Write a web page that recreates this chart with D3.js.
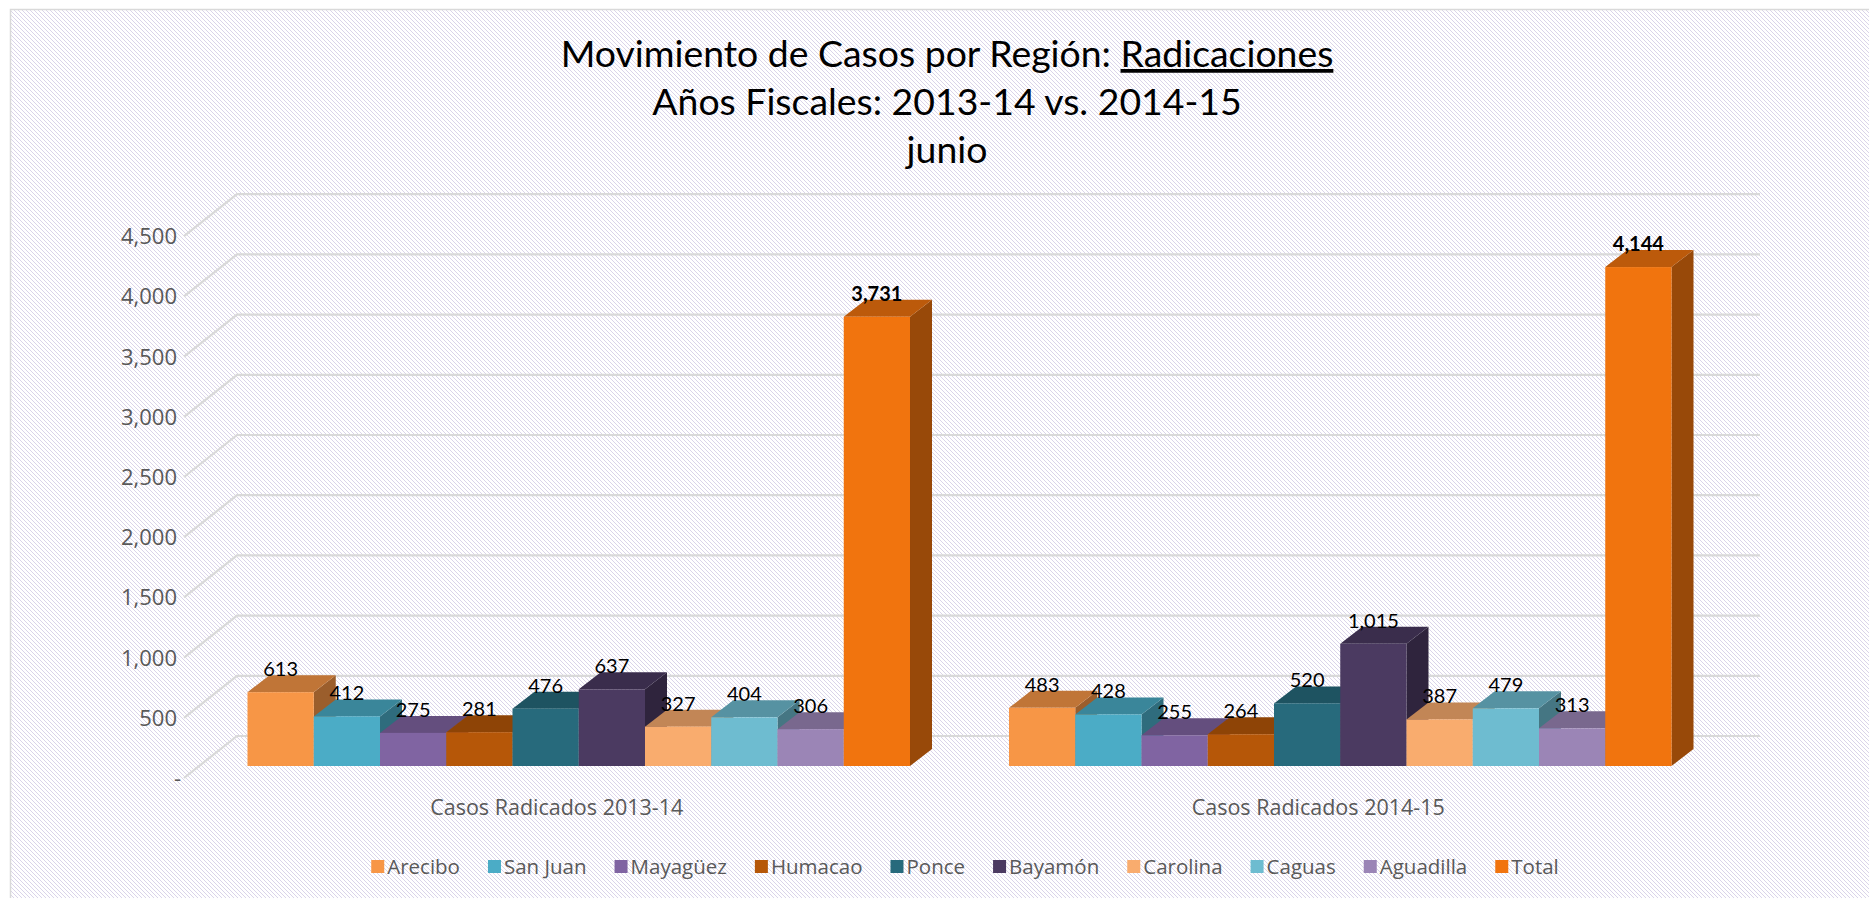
<!DOCTYPE html>
<html>
<head>
<meta charset="utf-8">
<script src="https://cdn.jsdelivr.net/npm/d3@7"></script>
<style>
  body { margin: 0; background: #fff; }
  svg { display: block; }
</style>
</head>
<body>
<div id="chart"></div>
<script>
var regions = ['Arecibo', 'San Juan', 'Mayagüez', 'Humacao', 'Ponce', 'Bayamón', 'Carolina', 'Caguas', 'Aguadilla', 'Total'];
var categories = ['Casos Radicados 2013-14', 'Casos Radicados 2014-15'];
var cases1314 = [613, 412, 275, 281, 476, 637, 327, 404, 306, 3731];
var cases1415 = [483, 428, 255, 264, 520, 1015, 387, 479, 313, 4144];
var colors = ['#f79646', '#4bacc6', '#8064a2', '#b65708', '#276a7c', '#4b3a61', '#f9ac6e', '#6ebcd0', '#9b85b6', '#f1740e'];
var yTicks = [0, 500, 1000, 1500, 2000, 2500, 3000, 3500, 4000, 4500];

var W = 1869, H = 898;
var depthX = 22, depthY = -17;      // bar depth
var wallX = 39, wallY = -30;        // bar front -> back wall
var floorX = -14, floorY = 12;      // bar front -> front floor edge

var svg = d3.select('#chart').append('svg')
            .attr('width', W)
            .attr('height', H);

// hatched background
var pat = svg.append('defs').append('pattern')
             .attr('id', 'hatch')
             .attr('patternUnits', 'userSpaceOnUse')
             .attr('width', 4)
             .attr('height', 4);
pat.append('rect').attr('width', 4).attr('height', 4).attr('fill', '#ffffff');
[0, 1, 2, 3].forEach(function(i) {
   pat.append('rect')
      .attr('x', i).attr('y', i)
      .attr('width', 1).attr('height', 1)
      .attr('fill', '#dad4e9')
      .attr('shape-rendering', 'crispEdges');
});

svg.append('rect')
   .attr('x', 10.5).attr('y', 9.5)
   .attr('width', W).attr('height', H)
   .attr('fill', 'url(#hatch)')
   .attr('stroke', '#d9d9d9')
   .attr('stroke-width', 1.5);

// scales (at the depth of the bar front faces)
var y = d3.scaleLinear().domain([0, 4500]).range([766, 766 - 4500 * 0.1204]);
var x0 = d3.scaleBand().domain(categories).range([198, 1721]).paddingInner(0.13).paddingOuter(0.065);
var x1 = d3.scaleBand().domain(regions).range([0, x0.bandwidth()]).padding(0);

// gridlines: front floor edge -> back wall -> across
var grid = svg.append('g');
grid.selectAll('path')
    .data(yTicks)
    .enter()
    .append('path')
    .attr('d', function(d) {
       var yb = y(d) + wallY;
       return 'M' + (198 + floorX) + ',' + (y(d) + floorY) +
              'L' + (198 + wallX) + ',' + yb +
              'L' + (1721 + wallX) + ',' + yb;
    })
    .attr('fill', 'none')
    .attr('stroke', '#d9d9d9')
    .attr('stroke-width', 2.2);

svg.append('g')
   .selectAll('text')
   .data(yTicks)
   .enter()
   .append('text')
   .attr('x', function(d) { return d === 0 ? 181 : 177; })
   .attr('y', function(d) { return y(d) + floorY; })
   .attr('dy', '0.36em')
   .attr('text-anchor', 'end')
   .attr('font-family', 'Open Sans')
   .attr('font-size', 22)
   .attr('fill', '#595959')
   .text(function(d) { return d === 0 ? '-' : d3.format(',')(d); });

// bars
var seriesByCat = [cases1314, cases1415];
var rows = [];
categories.forEach(function(c, ci) {
   regions.forEach(function(r, ri) {
      rows.push({cat: c, region: r, i: ri, value: seriesByCat[ci][ri]});
   });
});

var bars = svg.append('g')
              .selectAll('g')
              .data(rows)
              .enter()
              .append('g');

function face(pts) {
   return 'M' + pts.map(function(p) { return p[0] + ',' + p[1]; }).join('L') + 'Z';
}

bars.each(function(d) {
   var g = d3.select(this);
   var xl = x0(d.cat) + x1(d.region);
   var xr = xl + x1.bandwidth();
   var yt = y(d.value), yb = y(0);
   var c = d3.rgb(colors[d.i]);
   g.append('path')
    .attr('d', face([[xr, yb], [xr + depthX, yb + depthY], [xr + depthX, yt + depthY], [xr, yt]]))
    .attr('fill', c.darker(1.3));
   g.append('path')
    .attr('d', face([[xl, yt], [xr, yt], [xr + depthX, yt + depthY], [xl + depthX, yt + depthY]]))
    .attr('fill', c.darker(0.7));
   g.append('rect')
    .attr('x', xl).attr('y', yt)
    .attr('width', x1.bandwidth())
    .attr('height', yb - yt)
    .attr('fill', c);
});

// data labels
bars.append('text')
    .attr('x', function(d) { return x0(d.cat) + x1(d.region) + x1.bandwidth() / 2; })
    .attr('y', function(d) { return y(d.value) - 16; })
    .attr('text-anchor', 'middle')
    .attr('font-family', 'Lato')
    .attr('font-size', 20)
    .attr('font-weight', function(d) { return d.region === 'Total' ? 'bold' : 'normal'; })
    .attr('fill', '#000')
    .text(function(d) { return d3.format(',')(d.value); });

// category labels
svg.append('g')
   .selectAll('text')
   .data(categories)
   .enter()
   .append('text')
   .attr('x', function(d) { return x0(d) + x0.bandwidth() / 2 - 22; })
   .attr('y', 815)
   .attr('text-anchor', 'middle')
   .attr('font-family', 'Open Sans')
   .attr('font-size', 21.5)
   .attr('fill', '#595959')
   .text(function(d) { return d; });

// title
var title = svg.append('text')
               .attr('text-anchor', 'middle')
               .attr('font-family', 'Lato')
               .attr('font-size', 36)
               .attr('fill', '#000');
var l1 = title.append('tspan').attr('x', 947).attr('y', 67);
l1.append('tspan').text('Movimiento de Casos por Región: ');
l1.append('tspan').attr('text-decoration', 'underline').text('Radicaciones');
title.append('tspan').attr('x', 947).attr('y', 115).text('Años Fiscales: 2013-14 vs. 2014-15');
title.append('tspan').attr('x', 947).attr('y', 163).text('junio');

// fit title width to the reference
var tw = l1.node().getComputedTextLength();
title.attr('font-size', 36 * 773 / tw);

// legend
var legend = svg.append('g');
var items = legend.selectAll('g')
                  .data(regions)
                  .enter()
                  .append('g');
items.append('rect')
     .attr('y', 860)
     .attr('width', 13)
     .attr('height', 13)
     .attr('fill', function(d, i) { return colors[i]; });
items.append('text')
     .attr('x', 16)
     .attr('y', 874)
     .attr('font-family', 'Open Sans')
     .attr('font-size', 20.5)
     .attr('fill', '#595959')
     .text(function(d) { return d; });

var lx = 0, pos = [];
items.each(function() {
   pos.push(lx);
   lx += 16 + d3.select(this).select('text').node().getComputedTextLength() + 28;
});
var lw = lx - 28;
items.attr('transform', function(d, i) { return 'translate(' + (965 - lw / 2 + pos[i]) + ',0)'; });
</script>
</body>
</html>
